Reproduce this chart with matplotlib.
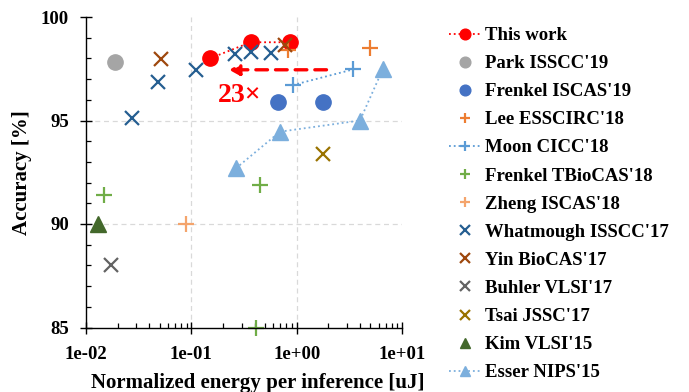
import matplotlib
matplotlib.use("Agg")
import matplotlib.pyplot as plt
from matplotlib.ticker import FixedLocator, LogLocator, NullFormatter, MultipleLocator

plt.rcParams['font.family'] = ['Liberation Serif', 'DejaVu Serif']
plt.rcParams['font.weight'] = 'bold'

# ---- data ----
this_work_x = [0.150, 0.366, 0.862]
this_work_y = [98.0, 98.78, 98.78]
park_x = [0.0188]
park_y = [97.85]
frenkel19_x = [0.668, 1.76]
frenkel19_y = [95.88, 95.9]
lee_x = [4.94, 0.833]
lee_y = [98.5, 98.42]
moon_x = [0.916, 3.45]
moon_y = [96.71, 97.47]
frenkel18_x = [0.0149, 0.448, 0.407]
frenkel18_y = [91.4, 91.88, 85.0]
zheng_x = [0.0889]
zheng_y = [90.0]
whatmough_x = [0.0272, 0.0479, 0.110, 0.258, 0.366, 0.575]
whatmough_y = [95.1, 96.87, 97.44, 98.2, 98.32, 98.27]
yin_x = [0.0515, 0.778]
yin_y = [97.96, 98.67]
buhler_x = [0.0173]
buhler_y = [88.0]
tsai_x = [1.76]
tsai_y = [93.4]
kim_x = [0.0131]
kim_y = [90.0]
esser_x = [0.265, 0.695, 3.99, 6.56]
esser_y = [92.69, 94.46, 95.0, 97.47]

arrow_start = (1.92, 97.45)
arrow_end = (0.228, 97.45)
label_23x = "23×"
label_23x_pos = (0.29, 96.2)

x_ticks = [1e-2, 1e-1, 1e0, 1e1]
x_ticklabels = ["1e-02", "1e-01", "1e+00", "1e+01"]
y_ticks = [85, 90, 95, 100]

fig = plt.figure(figsize=(6.89, 3.92), dpi=100)
ax = fig.add_axes([86/689, 1 - 327.5/392, 316/689, 310.5/392])

FS = 13.5
ms_x = 10
mew_x = 1.6

ax.plot(this_work_x, this_work_y, ls=':', lw=1.3, color='#FF0000', marker='o',
        ms=11, mec='#FF0000', mfc='#FF0000', label='This work', clip_on=False)
ax.plot(park_x, park_y, ls='none', marker='o', ms=11, color='#A5A5A5', label="Park ISSCC'19")
ax.plot(frenkel19_x, frenkel19_y, ls='none', marker='o', ms=11, color='#4472C4', label="Frenkel ISCAS'19")
ax.plot(lee_x, lee_y, ls='none', marker='+', ms=11, mew=mew_x, color='#ED7D31', label="Lee ESSCIRC'18")
ax.plot(moon_x, moon_y, ls=':', lw=1.3, marker='+', ms=11, mew=mew_x, color='#5B9BD5', label="Moon CICC'18")
ax.plot(frenkel18_x, frenkel18_y, ls='none', marker='+', ms=11, mew=mew_x, color='#70AD47',
        label="Frenkel TBioCAS'18", clip_on=False)
ax.plot(zheng_x, zheng_y, ls='none', marker='+', ms=11, mew=mew_x, color='#F4A46C', label="Zheng ISCAS'18")
ax.plot(whatmough_x, whatmough_y, ls='none', marker='x', ms=ms_x, mew=mew_x, color='#255E91',
        label="Whatmough ISSCC'17")
ax.plot(yin_x, yin_y, ls='none', marker='x', ms=ms_x, mew=mew_x, color='#9E480E', label="Yin BioCAS'17")
ax.plot(buhler_x, buhler_y, ls='none', marker='x', ms=ms_x, mew=mew_x, color='#636363', label="Buhler VLSI'17")
ax.plot(tsai_x, tsai_y, ls='none', marker='x', ms=ms_x, mew=mew_x, color='#997300', label="Tsai JSSC'17")
ax.plot(kim_x, kim_y, ls='none', marker='^', ms=11, color='#43682B', label="Kim VLSI'15", clip_on=False)
ax.plot(esser_x, esser_y, ls=':', lw=1.3, marker='^', ms=11, color='#7CAFDD', label="Esser NIPS'15")

ax.annotate("", xy=arrow_end, xytext=arrow_start,
            arrowprops=dict(arrowstyle='-|>,head_length=0.6,head_width=0.33',
                            ls=(0, (3.5, 2.4)), lw=2.4, color='#FF0000',
                            shrinkA=0, shrinkB=0))
ax.text(label_23x_pos[0], label_23x_pos[1], label_23x, color='#FF0000', fontsize=20,
        fontweight='bold', ha='center', va='center')

ax.set_xscale('log')
ax.set_xlim(x_ticks[0], x_ticks[-1])
ax.set_ylim(y_ticks[0], y_ticks[-1])
ax.xaxis.set_major_locator(FixedLocator(x_ticks))
ax.set_xticklabels(x_ticklabels)
ax.xaxis.set_minor_locator(LogLocator(base=10, subs=range(2, 10)))
ax.xaxis.set_minor_formatter(NullFormatter())
ax.yaxis.set_major_locator(FixedLocator(y_ticks))
ax.yaxis.set_minor_locator(MultipleLocator(1))

for s in ['top', 'right']:
    ax.spines[s].set_visible(False)
for s in ['left', 'bottom']:
    ax.spines[s].set_linewidth(1.0)
    ax.spines[s].set_color('black')

ax.tick_params(axis='both', which='major', direction='inout', length=8.5, width=1.0,
               labelsize=FS, pad=9)
ax.tick_params(axis='both', which='minor', direction='in', length=3.5, width=0.9)
ax.tick_params(axis='y', which='major', pad=8)

ax.grid(True, which='major', ls=(0, (4, 3)), lw=0.9, color='#D9D9D9')
ax.set_axisbelow(True)
for t in [ax.xaxis.get_major_ticks()[0], ax.xaxis.get_major_ticks()[-1],
          ax.yaxis.get_major_ticks()[0], ax.yaxis.get_major_ticks()[-1]]:
    t.gridline.set_visible(False)

ax.set_xlabel("Normalized energy per inference [uJ]", fontsize=15, fontweight='bold')
ax.xaxis.set_label_coords(0.545, -0.148)
ax.set_ylabel("Accuracy [%]", fontsize=15, fontweight='bold')
ax.yaxis.set_label_coords(-0.17, 0.5)

handles, labels = ax.get_legend_handles_labels()
fig.legend(handles, labels, loc='upper left', bbox_to_anchor=(449/689, 1 - 27/392),
           frameon=False, fontsize=FS, markerscale=0.7, handlelength=1.7,
           handletextpad=0.2, labelspacing=0.585, borderpad=0, borderaxespad=0)

fig.savefig("out.png", dpi=100)
